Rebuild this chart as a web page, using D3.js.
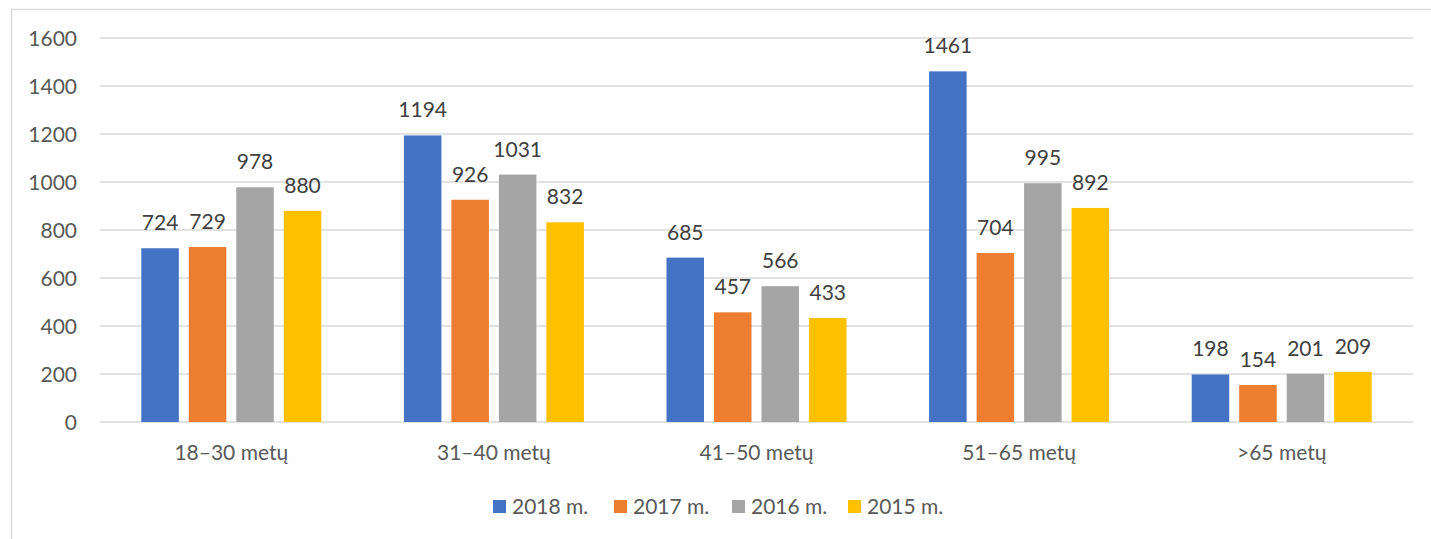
<!DOCTYPE html>
<html>
<head>
<meta charset="utf-8">
<script src="https://cdn.jsdelivr.net/npm/d3@7/dist/d3.min.js"></script>
<style>
  body { margin: 0; background: #fff; }
  svg text { font-family: Lato, "Open Sans", sans-serif; }
</style>
</head>
<body>
<div id="chart"></div>
<script>
var categories = ["18–30 metų", "31–40 metų", "41–50 metų", "51–65 metų", ">65 metų"];
var seriesNames = ["2018 m.", "2017 m.", "2016 m.", "2015 m."];
var values2018 = [724, 1194, 685, 1461, 198];
var values2017 = [729, 926, 457, 704, 154];
var values2016 = [978, 1031, 566, 995, 201];
var values2015 = [880, 832, 433, 892, 209];
var yTicks = [0, 200, 400, 600, 800, 1000, 1200, 1400, 1600];

var colors = ["#4472C4", "#ED7D31", "#A5A5A5", "#FFC000"];
var allValues = [values2018, values2017, values2016, values2015];

var width = 1431, height = 539;
var plot = {left: 100, right: 1413, top: 38, bottom: 422};
var fontSize = "21px";

var svg = d3.select("#chart").append("svg")
    .attr("width", width)
    .attr("height", height);

// chart border (runs off the right and bottom edges)
svg.append("rect")
    .attr("x", 11.5).attr("y", 9.5)
    .attr("width", width).attr("height", height)
    .attr("fill", "none")
    .attr("stroke", "#d9d9d9")
    .attr("stroke-width", 1.5);

var x0 = d3.scaleBand()
    .domain(categories)
    .range([plot.left, plot.right])
    .paddingInner(0.3146)
    .paddingOuter(0.1573);

var x1 = d3.scaleBand()
    .domain(seriesNames)
    .range([0, x0.bandwidth()])
    .paddingInner(0.21);

var y = d3.scaleLinear()
    .domain([0, 1600])
    .range([plot.bottom, plot.top]);

// gridlines
svg.append("g").attr("class", "grid")
  .selectAll("line")
  .data(yTicks)
  .enter().append("line")
    .attr("x1", plot.left)
    .attr("x2", plot.right)
    .attr("y1", function(d) { return y(d); })
    .attr("y2", function(d) { return y(d); })
    .attr("stroke", "#d9d9d9")
    .attr("stroke-width", 1.5);

// y axis labels
var yAxis = d3.axisLeft(y).tickValues(yTicks).tickFormat(d3.format("d")).tickSize(0).tickPadding(0);
var yg = svg.append("g")
    .attr("transform", "translate(77,0)")
    .call(yAxis);
yg.select(".domain").remove();
yg.selectAll("text")
    .attr("fill", "#595959")
    .style("font-size", fontSize)
    .attr("dy", "0.34em");

// bars
var rows = categories.map(function(c, i) {
  return {cat: c, vals: seriesNames.map(function(s, j) { return {series: s, idx: j, value: allValues[j][i]}; })};
});

var groups = svg.append("g").selectAll("g")
  .data(rows)
  .enter().append("g")
    .attr("transform", function(d) { return "translate(" + x0(d.cat) + ",0)"; });

groups.selectAll("rect")
  .data(function(d) { return d.vals; })
  .enter().append("rect")
    .attr("x", function(d) { return x1(d.series); })
    .attr("width", x1.bandwidth())
    .attr("y", function(d) { return y(d.value); })
    .attr("height", function(d) { return y(0) - y(d.value); })
    .attr("fill", function(d) { return colors[d.idx]; });

groups.selectAll("text")
  .data(function(d) { return d.vals; })
  .enter().append("text")
    .attr("x", function(d) { return x1(d.series) + x1.bandwidth() / 2; })
    .attr("y", function(d) { return y(d.value) - 18; })
    .attr("text-anchor", "middle")
    .attr("fill", "#404040")
    .style("font-size", fontSize)
    .text(function(d) { return d.value; });

// category labels
var xAxis = d3.axisBottom(x0).tickSize(0).tickPadding(0);
var xg = svg.append("g")
    .attr("transform", "translate(0," + plot.bottom + ")")
    .call(xAxis);
xg.select(".domain").remove();
xg.selectAll("text")
    .attr("fill", "#595959")
    .style("font-size", fontSize)
    .attr("dy", null)
    .attr("y", 38);

// legend
var legendX = [493, 614, 732, 848];
var legend = svg.append("g").selectAll("g")
  .data(seriesNames)
  .enter().append("g")
    .attr("transform", function(d, i) { return "translate(" + legendX[i] + ",500)"; });

legend.append("rect")
    .attr("width", 13).attr("height", 13)
    .attr("fill", function(d, i) { return colors[i]; });

legend.append("text")
    .attr("x", 19).attr("y", 14)
    .attr("fill", "#595959")
    .style("font-size", fontSize)
    .text(function(d) { return d; });
</script>
</body>
</html>
